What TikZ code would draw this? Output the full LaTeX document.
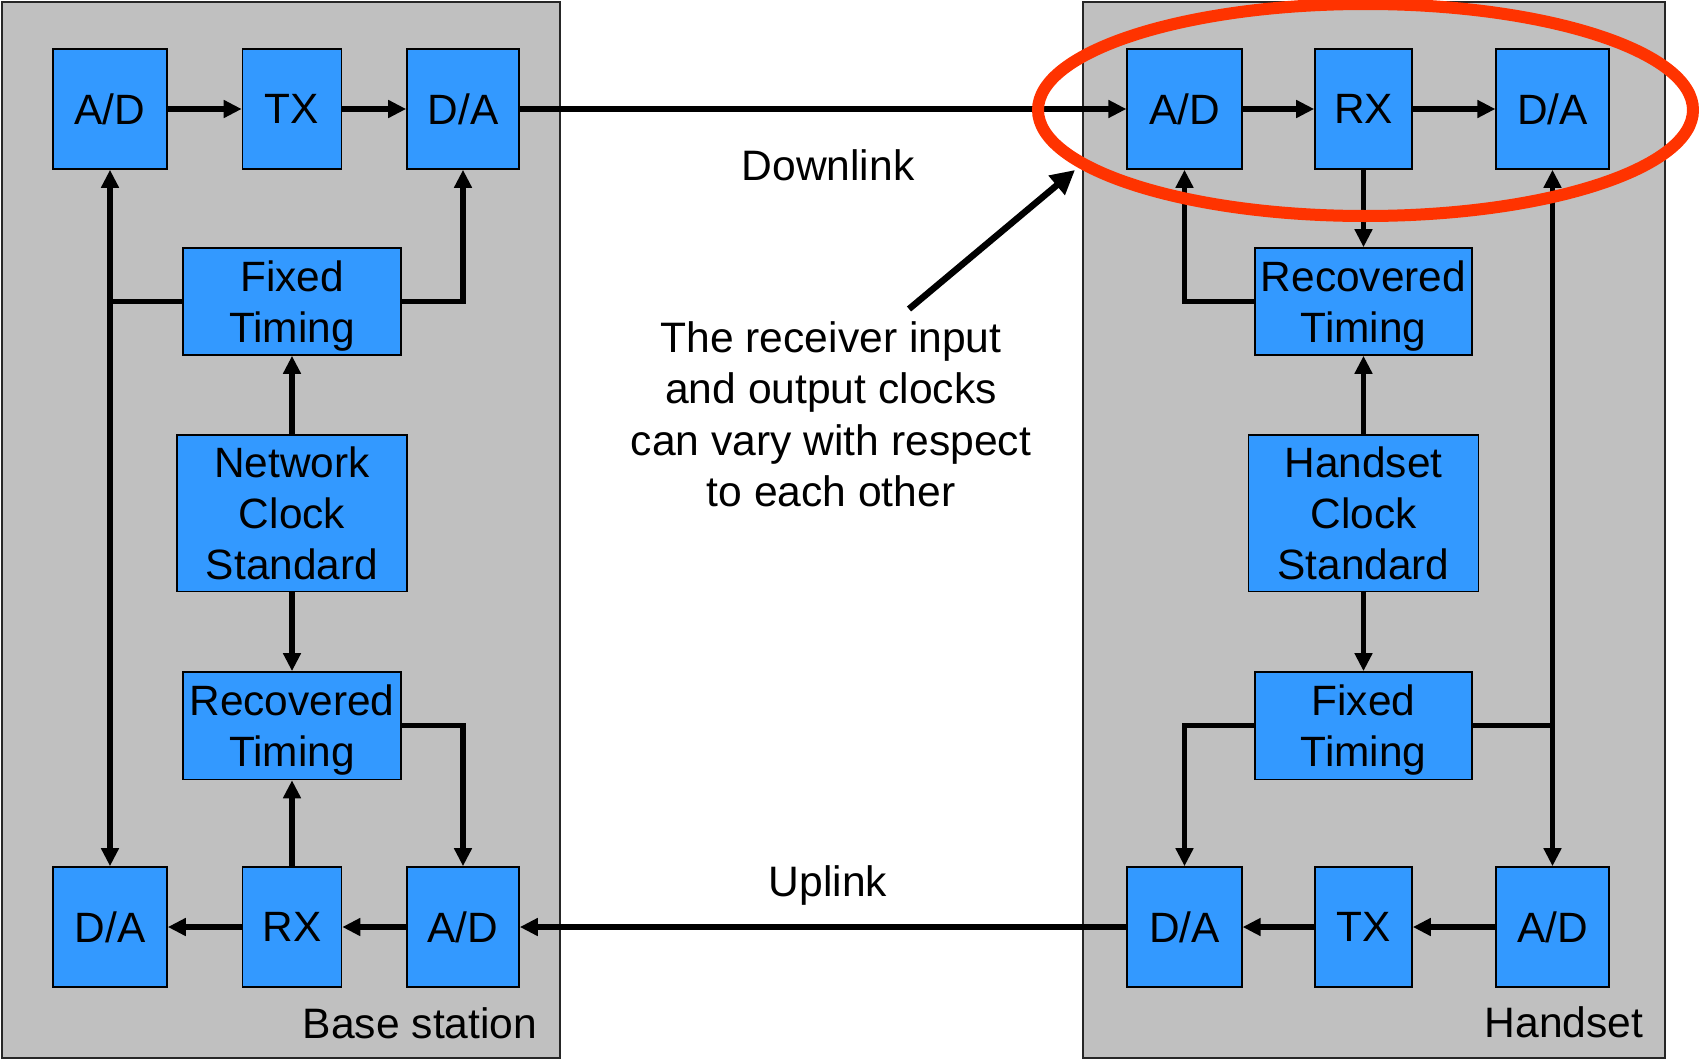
\documentclass[tikz,border=0pt]{standalone}
\usepackage{fontspec}
\setmainfont{Liberation Sans}
\usetikzlibrary{arrows.meta}
\definecolor{panelgray}{RGB}{192,192,192}
\definecolor{boxblue}{RGB}{51,153,255}
\definecolor{ringred}{RGB}{255,51,0}
\begin{document}
\begin{tikzpicture}[x=1pt,y=-1pt,
  panel/.style={draw=black!85,line width=1.5pt,fill=panelgray},
  blk/.style={draw=black,line width=1.6pt,fill=boxblue,inner sep=0pt,align=center,
    text depth=0pt,font=\fontsize{42.4}{51}\selectfont},
  conn/.style={line width=5.5pt,-{Triangle[length=18pt,width=17pt]}},
  bconn/.style={line width=5.5pt,{Triangle[length=18pt,width=17pt]}-{Triangle[length=18pt,width=17pt]}},
  plain/.style={line width=5.5pt},
  lbl/.style={inner sep=0pt,font=\fontsize{42.6}{51.4}\selectfont}]
\useasboundingbox (0,0) rectangle (1699,1060);
\fill[white] (0,0) rectangle (1699,1060);
% panels
\draw[panel] (2,2) rectangle (560,1058);
\draw[panel] (1083,2) rectangle (1665,1058);
% ---- left (base station)
\node[blk,minimum width=114pt,minimum height=120pt] (la1) at (110,109) {A/D};
\node[blk,minimum width=99pt,minimum height=120pt] (ltx) at (292,109) {TX};
\node[blk,minimum width=112pt,minimum height=120pt] (ld1) at (463,109) {D/A};
\node[blk,minimum width=218pt,minimum height=107pt] (lft) at (292,301.5) {Fixed\\Timing};
\node[blk,minimum width=229.5pt,minimum height=156.5pt] (lnc) at (292,513.2) {Network\\Clock\\Standard};
\node[blk,minimum width=218pt,minimum height=107.5pt] (lrt) at (292,725.7) {Recovered\\Timing};
\node[blk,minimum width=114pt,minimum height=120pt] (ld2) at (110,927) {D/A};
\node[blk,minimum width=99pt,minimum height=120pt] (lrx) at (292,927) {RX};
\node[blk,minimum width=112pt,minimum height=120pt] (la2) at (463,927) {A/D};
% ---- right (handset)
\node[blk,minimum width=114.6pt,minimum height=120pt] (ra1) at (1184.5,109) {A/D};
\node[blk,minimum width=97pt,minimum height=120pt] (rrx) at (1363.5,109) {RX};
\node[blk,minimum width=112.6pt,minimum height=120pt] (rd1) at (1552.5,109) {D/A};
\node[blk,minimum width=217pt,minimum height=107pt] (rrt) at (1363.5,301.5) {Recovered\\Timing};
\node[blk,minimum width=230pt,minimum height=156.5pt] (rhc) at (1363.5,513.2) {Handset\\Clock\\Standard};
\node[blk,minimum width=217pt,minimum height=107.5pt] (rft) at (1363.5,725.7) {Fixed\\Timing};
\node[blk,minimum width=114.6pt,minimum height=120pt] (rd2) at (1184.5,927) {D/A};
\node[blk,minimum width=97pt,minimum height=120pt] (rtx) at (1363.5,927) {TX};
\node[blk,minimum width=112.6pt,minimum height=120pt] (ra2) at (1552.5,927) {A/D};
% ---- left connectors
\draw[conn] (la1) -- (ltx);
\draw[conn] (ltx) -- (ld1);
\draw[bconn] (la1.south) -- (ld2.north);
\draw[plain] (lft.west) -- (lft.west -| la1.south);
\draw[conn] (lft.east) -| (ld1.south);
\draw[conn] (lnc.north) -- (lft.south);
\draw[conn] (lnc.south) -- (lrt.north);
\draw[conn] (lrx.north) -- (lrt.south);
\draw[conn] (lrt.east) -| (la2.north);
\draw[conn] (la2) -- (lrx);
\draw[conn] (lrx) -- (ld2);
% ---- right connectors
\draw[conn] (ra1) -- (rrx);
\draw[conn] (rrx) -- (rd1);
\draw[conn] (rrx.south) -- (rrt.north);
\draw[conn] (rrt.west) -| (ra1.south);
\draw[conn] (rhc.north) -- (rrt.south);
\draw[conn] (rhc.south) -- (rft.north);
\draw[conn] (rft.west) -| (rd2.north);
\draw[bconn] (rd1.south) -- (ra2.north);
\draw[plain] (rft.east) -- (rft.east -| rd1.south);
\draw[conn] (ra2) -- (rtx);
\draw[conn] (rtx) -- (rd2);
% ---- links
\draw[conn] (ld1.east) -- (ra1.west);
\draw[conn] (rd2.west) -- (la2.east);
% ---- labels
\node[lbl,anchor=base] (down) at (828,180.7) {Downlink};
\node[lbl,anchor=base] (up) at (828,896) {Uplink};
\node[lbl,anchor=base east] (bs) at (537.5,1038.5) {Base station};
\node[lbl,anchor=base east] (hs) at (1643.5,1037.5) {Handset};
\node[lbl,anchor=north,align=center] (note) at (831,321.2)
  {The receiver input\\and output clocks\\can vary with respect\\to each other};
% ---- red ring and pointer
\draw[ringred,line width=12pt] (1365.5,110) ellipse [x radius=327.5, y radius=106];
\coordinate (tip) at (1075,170);
\draw[line width=6.5pt,-{Triangle[length=24pt,width=24pt]}] (909,309) -- (tip);
\end{tikzpicture}
\end{document}
